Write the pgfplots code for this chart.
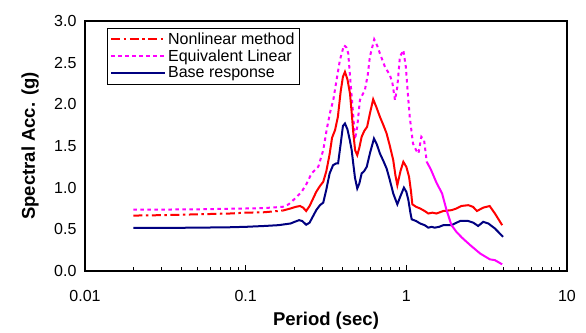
\documentclass[border=0pt]{standalone}
\usepackage{fontspec}
\setmainfont{Liberation Sans}
\usepackage{pgfplots}
\pgfplotsset{compat=1.18}
\usetikzlibrary{calc}
\definecolor{navyb}{RGB}{0,0,128}
\definecolor{magb}{RGB}{255,0,255}
\begin{document}
\begin{tikzpicture}
\begin{axis}[
  scale only axis, width=482bp, height=250bp,
  xmode=log, xmin=0.01, xmax=10, ymin=0, ymax=3,
  xtick={0.01,0.1,1,10}, xticklabels={0.01,0.1,1,10},
  ytick={0,0.5,1,1.5,2,2.5,3},
  /pgf/number format/assume math mode=true,
  yticklabel style={xshift=-5bp, /pgf/number format/.cd, fixed, fixed zerofill, precision=1},
  tick label style={font=\fontsize{16bp}{18bp}\selectfont},
  xticklabel style={yshift=-16bp},
  tick align=inside, xtick pos=bottom, ytick pos=left,
  ytick style={draw=none},
  major tick length=6bp, minor tick length=4bp,
  every tick/.style={black, line width=0.6bp},
  axis line style={line width=1.2bp},
  xlabel={\textbf{Period (sec)}}, ylabel={\textbf{Spectral Acc. (g)}},
  label style={font=\fontsize{18.5bp}{20bp}\selectfont},
  xlabel style={at={(axis description cs:0.5,-0.2)}, anchor=center},
  ylabel style={at={(axis description cs:-0.114,0.5)}, anchor=center, rotate=0},
  legend style={at={(axis description cs:0.0456,0.972)}, anchor=north west,
    font=\fontsize{16bp}{17bp}\selectfont, draw=black, thin,
    inner xsep=3bp, inner ysep=2.5bp, row sep=0bp, cells={anchor=west}},
  legend image code/.code={\draw[#1] plot coordinates {(0bp,0bp) (54bp,0bp)};},
]
\addplot[red, line width=2bp, dash pattern=on 9bp off 3.5bp on 2.5bp off 3.5bp] coordinates {
(0.02,0.665)(0.03,0.67)(0.05,0.68)(0.08,0.69)(0.10,0.70)(0.13,0.705)(0.17,0.725)};
\addlegendentry{Nonlinear method}
\addplot[magb, line width=2bp, dash pattern=on 3.5bp off 3.5bp] coordinates {
(0.02,0.735)(0.05,0.74)(0.10,0.75)(0.13,0.755)(0.17,0.77)(0.185,0.80)(0.203,0.87)(0.223,0.95)
(0.24,1.05)(0.257,1.17)(0.283,1.25)(0.304,1.45)(0.319,1.69)(0.335,1.90)(0.351,2.05)(0.365,2.25)
(0.386,2.53)(0.409,2.71)(0.425,2.68)(0.435,2.61)(0.45,2.25)(0.468,1.85)(0.479,1.58)(0.495,1.73)
(0.514,2.05)(0.535,2.12)(0.552,2.17)(0.575,2.35)(0.593,2.57)(0.631,2.78)(0.66,2.70)(0.685,2.61)
(0.736,2.45)(0.791,2.35)(0.82,2.25)(0.85,2.05)(0.879,2.21)(0.912,2.57)(0.958,2.65)(0.993,2.45)
(1.02,2.15)(1.05,1.85)(1.10,1.53)(1.15,1.45)(1.19,1.41)(1.24,1.61)(1.29,1.57)(1.34,1.31)};
\addlegendentry{Equivalent Linear}
\addplot[navyb, line width=2bp] coordinates {
(0.02,0.516)(0.03,0.517)(0.05,0.52)(0.08,0.525)(0.10,0.53)(0.13,0.54)(0.16,0.55)(0.19,0.57)
(0.205,0.595)(0.215,0.61)(0.225,0.60)(0.238,0.555)(0.25,0.58)(0.263,0.66)(0.275,0.73)(0.29,0.79)
(0.304,0.82)(0.318,0.98)(0.333,1.17)(0.35,1.27)(0.365,1.29)(0.376,1.29)(0.39,1.52)(0.403,1.74)
(0.415,1.77)(0.43,1.70)(0.445,1.57)(0.457,1.45)(0.468,1.28)(0.479,1.12)(0.495,0.99)(0.51,1.05)
(0.527,1.17)(0.547,1.20)(0.567,1.25)(0.595,1.42)(0.629,1.59)(0.655,1.52)(0.685,1.41)(0.72,1.32)
(0.754,1.23)(0.79,1.09)(0.829,0.93)(0.879,0.80)(0.92,0.90)(0.966,1.00)(1.00,0.95)(1.03,0.85)
(1.06,0.70)(1.08,0.62)(1.15,0.60)(1.22,0.57)(1.30,0.55)(1.37,0.52)(1.44,0.53)(1.50,0.52)
(1.60,0.53)(1.70,0.55)(1.91,0.55)(2.16,0.60)(2.43,0.60)(2.61,0.58)(2.80,0.54)(3.01,0.59)
(3.24,0.57)(3.56,0.51)(4.0,0.41)};
\addlegendentry{Base response}
\addplot[red, line width=2bp, forget plot] coordinates {
(0.17,0.725)(0.19,0.75)(0.205,0.77)(0.218,0.78)(0.228,0.76)(0.238,0.72)(0.25,0.78)(0.263,0.87)
(0.275,0.95)(0.29,1.02)(0.304,1.07)(0.318,1.20)(0.333,1.40)(0.345,1.60)(0.36,1.69)(0.375,1.85)
(0.39,2.15)(0.403,2.33)(0.415,2.39)(0.43,2.30)(0.446,2.13)(0.457,1.90)(0.468,1.65)(0.48,1.45)
(0.495,1.39)(0.51,1.48)(0.527,1.61)(0.547,1.68)(0.57,1.73)(0.595,1.90)(0.622,2.06)(0.65,1.97)
(0.685,1.85)(0.72,1.75)(0.754,1.65)(0.79,1.50)(0.829,1.33)(0.855,1.15)(0.879,1.03)(0.92,1.20)
(0.958,1.31)(1.0,1.25)(1.04,1.13)(1.07,0.95)(1.09,0.80)(1.15,0.77)(1.22,0.75)(1.30,0.72)
(1.37,0.69)(1.45,0.70)(1.54,0.69)(1.70,0.72)(1.91,0.73)(2.05,0.75)(2.2,0.78)(2.43,0.79)
(2.6,0.77)(2.75,0.72)(3.01,0.76)(3.3,0.78)(3.56,0.69)(3.95,0.55)};
\addplot[magb, line width=2bp, forget plot] coordinates {
(1.34,1.31)(1.42,1.22)(1.54,1.06)(1.67,0.93)(1.78,0.73)(1.91,0.55)(2.05,0.47)(2.22,0.40)
(2.5,0.31)(2.88,0.21)(3.31,0.14)(3.56,0.13)(3.95,0.08)};
\end{axis}
\path (current axis.south west) ++(-85bp,-60bp) rectangle ($(current axis.north east)+(19bp,21bp)$);
\end{tikzpicture}
\end{document}
